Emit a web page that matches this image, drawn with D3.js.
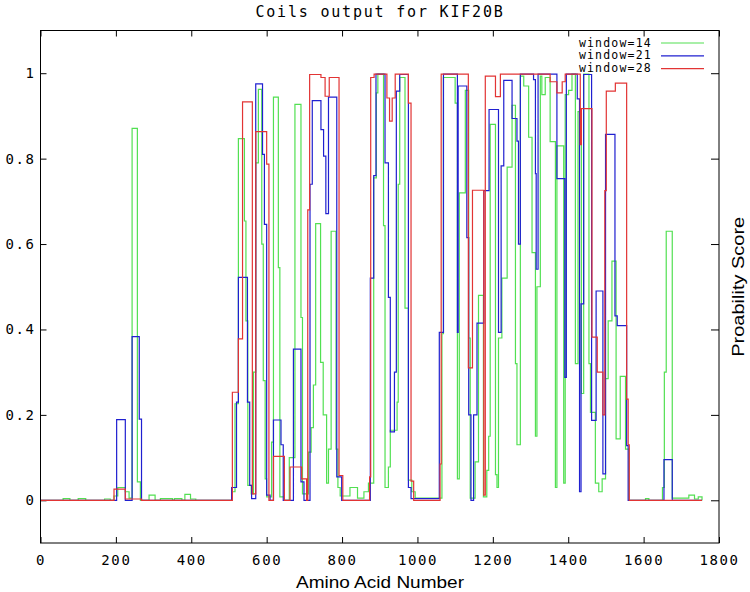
<!DOCTYPE html>
<html>
<head>
<meta charset="utf-8">
<title>Coils output for KIF20B</title>
<script src="https://d3js.org/d3.v7.min.js"></script>
<style>
  body { margin: 0; background: #fff; }
  .mono { font-family: "DejaVu Sans Mono", monospace; }
</style>
</head>
<body>
<script>

    const width = 750;
    const height = 592;

    // [first residue, score] steps
    const win14 = [
        [0, 0], [60, 0.004], [78, 0], [100, 0.004], [120, 0], [170, 0.003], [185, 0],
        [195, 0.01], [205, 0.03], [225, 0.02], [235, 0.005], [243, 0.871], [257, 0.043], [265, 0],
        [288, 0.012], [304, 0], [318, 0.004], [350, 0], [355, 0.004], [375, 0], [383, 0.014],
        [398, 0.003], [412, 0],
        [507, 0.02], [516, 0.226], [525, 0.847], [541, 0.654], [545, 0.42], [550, 0.035],
        [559, 0.015], [565, 0.3], [571, 0.79], [578, 0.962], [587, 0.6], [591, 0.28], [596, 0.05],
        [600, 0.008], [613, 0.136], [618, 0.944], [631, 0.545], [635, 0.008], [647, 0],
        [660, 0.1], [675, 0.927], [691, 0.428], [695, 0.015], [711, 0.113], [718, 0.17],
        [724, 0.27], [730, 0.648], [743, 0.323], [750, 0.2], [759, 0.04], [764, 0.12],
        [771, 0.63], [784, 0.12], [789, 0.03], [795, 0.01],
        [821, 0.03], [841, 0.005], [858, 0.02], [870, 0.04], [884, 0.755], [891, 0.954],
        [895, 0.998], [910, 0.643], [914, 0.03], [923, 0.078], [928, 0.164], [946, 0.23],
        [949, 0.74], [953, 0.99], [967, 0.45], [976, 0.047], [985, 0.02], [994, 0.005],
        [1065, 0.39], [1069, 0.99], [1100, 0.93], [1106, 0.05],
        [1111, 0.72], [1127, 0.96], [1136, 0.38], [1140, 0.005], [1153, 0.09], [1162, 0.48],
        [1175, 0.008], [1184, 0.07], [1189, 0.15], [1193, 0.88], [1207, 0.06], [1211, 0.03],
        [1215, 0.38], [1224, 0.52], [1238, 0.78], [1251, 0.925], [1260, 0.32], [1264, 0.13],
        [1273, 0.993], [1282, 0.97], [1295, 0.85], [1304, 0.58], [1313, 0.15], [1317, 0.5],
        [1326, 0.993], [1330, 0.95], [1339, 0.99], [1352, 0.84], [1366, 0.03], [1370, 0.83],
        [1388, 0.04], [1392, 0.95], [1401, 0.96], [1410, 0.998], [1419, 0.32], [1426, 0.91],
        [1435, 0.25], [1441, 0.998], [1455, 0.32], [1459, 0.206], [1472, 0.04], [1481, 0.02],
        [1490, 0.05], [1499, 0.285], [1506, 0.42], [1516, 0.56], [1527, 0.144], [1538, 0.29],
        [1552, 0.12], [1561, 0], [1605, 0.004], [1614, 0], [1650, 0.03], [1655, 0.3],
        [1660, 0.63], [1676, 0.005], [1720, 0.012], [1735, 0.003], [1745, 0.008], [1755, 0]
    ];

    const win21 = [
        [0, 0], [202, 0.189], [225, 0], [243, 0.383], [262, 0.19], [268, 0],
        [507, 0.03], [520, 0.23], [525, 0.522], [549, 0.23], [555, 0.035], [560, 0.004],
        [571, 0.975], [589, 0.81], [594, 0.646], [600, 0.012], [609, 0], [618, 0.188],
        [638, 0.13], [644, 0], [671, 0.354], [691, 0.043], [699, 0], [715, 0.74],
        [721, 0.936], [744, 0.868], [751, 0.806], [757, 0.671], [764, 0.944], [786, 0.055],
        [799, 0], [875, 0.52], [884, 0.76], [890, 0.998], [914, 0.79], [923, 0.475],
        [928, 0.16], [939, 0.3], [944, 0.958], [953, 0.997], [976, 0.03], [983, 0.004],
        [1058, 0.393], [1069, 0.998], [1106, 0.393], [1108, 0.97], [1131, 0.615],
        [1136, 0.2], [1142, 0], [1149, 0.2], [1158, 0.415], [1176, 0.725], [1190, 0.915],
        [1215, 0.393], [1222, 0.783], [1229, 0.983], [1251, 0.894], [1264, 0.841],
        [1268, 0.6], [1273, 0.998], [1308, 0.985], [1313, 0.765], [1315, 0.541],
        [1320, 0.998], [1370, 0.753], [1391, 0.288], [1395, 0.998], [1424, 0.94],
        [1430, 0.02], [1434, 0.46], [1441, 0.997], [1462, 0.187], [1474, 0.49],
        [1492, 0.062], [1499, 0.857], [1524, 0.432], [1530, 0.409], [1555, 0.128],
        [1559, 0], [1654, 0.095], [1676, 0], [1755, 0]
    ];

    const win28 = [
        [0, 0], [195, 0.026], [225, 0.003], [268, 0],
        [509, 0.253], [525, 0.378], [536, 0.933], [562, 0.015], [571, 0.863], [600, 0.787],
        [606, 0], [618, 0.103], [647, 0], [662, 0.078], [693, 0.05], [706, 0], [709, 0.68],
        [714, 0.997], [744, 0.99], [755, 0.946], [766, 0.99], [792, 0.058], [802, 0],
        [873, 0.055], [876, 0.99], [885, 0.998], [919, 0.942], [926, 0.888], [933, 0.942],
        [941, 0.998], [976, 0.93], [983, 0.045], [990, 0], [1060, 0.085], [1063, 0.998],
        [1135, 0.31], [1146, 0.726], [1176, 0.012], [1180, 0.993], [1207, 0.945],
        [1220, 0.998], [1352, 0.98], [1370, 0.954], [1384, 0.98], [1392, 0.998],
        [1432, 0.833], [1435, 0.917], [1463, 0.382], [1477, 0.3], [1492, 0.2],
        [1497, 0.725], [1501, 0.958], [1525, 0.977], [1555, 0.237], [1559, 0.13],
        [1562, 0], [1755, 0]
    ];

    const seriesNames = ["window=14", "window=21", "window=28"];
    const seriesColors = ["#52e052", "#2020d0", "#e23434"];
    const xTicks = d3.range(0, 1801, 200);
    const yTicks = [0, 0.2, 0.4, 0.6, 0.8, 1];

    const margin = {left: 40.5, right: 31, top: 30.5, bottom: 49};

    const x = d3.scaleLinear()
        .domain([0, 1800])
        .range([margin.left, width - margin.right]);

    const y = d3.scaleLinear()
        .domain([-0.1, 1.1])
        .range([height - margin.bottom, margin.top]);

    const svg = d3.select("body").append("svg")
        .attr("width", width)
        .attr("height", height);

    // title
    svg.append("text")
        .attr("class", "mono")
        .attr("x", 380)
        .attr("y", 17)
        .attr("text-anchor", "middle")
        .attr("font-size", "15px")
        .attr("letter-spacing", "1.8px")
        .text("Coils output for KIF20B");

    const tickStyle = g => {
        g.select(".domain").remove();
        g.selectAll("line").attr("stroke", "#000");
        g.selectAll("text")
            .attr("class", "mono")
            .attr("font-size", "14px")
            .attr("letter-spacing", "1.6px")
            .attr("fill", "#000");
    };

    // bottom axis, ticks drawn inward
    svg.append("g")
        .attr("transform", `translate(0,${y(-0.1)})`)
        .call(d3.axisBottom(x).tickValues(xTicks).tickFormat(d3.format("d"))
            .tickSizeInner(-6).tickSizeOuter(0).tickPadding(12))
        .call(tickStyle);

    // top mirror ticks
    svg.append("g")
        .attr("transform", `translate(0,${y(1.1)})`)
        .call(d3.axisTop(x).tickValues(xTicks).tickFormat("")
            .tickSizeInner(-6).tickSizeOuter(0))
        .call(tickStyle);

    // left axis
    svg.append("g")
        .attr("transform", `translate(${x(0)},0)`)
        .call(d3.axisLeft(y).tickValues(yTicks).tickFormat(d3.format("~g"))
            .tickSizeInner(-6).tickSizeOuter(0).tickPadding(5))
        .call(tickStyle);

    // right mirror ticks
    svg.append("g")
        .attr("transform", `translate(${x(1800)},0)`)
        .call(d3.axisRight(y).tickValues(yTicks).tickFormat("")
            .tickSizeInner(-8).tickSizeOuter(0))
        .call(tickStyle);

    const line = d3.line()
        .x(d => x(d[0]))
        .y(d => y(d[1]))
        .curve(d3.curveStepAfter);

    const plot = svg.append("g");
    [win14, win21, win28].forEach((data, i) => {
        plot.append("path")
            .datum(data)
            .attr("fill", "none")
            .attr("stroke", seriesColors[i])
            .attr("stroke-width", 1.2)
            .attr("d", line);
    });

    // frame
    svg.append("rect")
        .attr("x", x(0))
        .attr("y", y(1.1))
        .attr("width", x(1800) - x(0))
        .attr("height", y(-0.1) - y(1.1))
        .attr("fill", "none")
        .attr("stroke", "#000")
        .attr("stroke-width", 1);

    // legend
    const legend = svg.append("g");
    seriesNames.forEach((name, i) => {
        const ly = 43 + i * 12.8;
        legend.append("text")
            .attr("class", "mono")
            .attr("x", 652)
            .attr("y", ly + 3.5)
            .attr("text-anchor", "end")
            .attr("font-size", "11.5px")
            .attr("letter-spacing", "1.2px")
            .text(name);
        legend.append("line")
            .attr("x1", 661).attr("x2", 704)
            .attr("y1", ly).attr("y2", ly)
            .attr("stroke", seriesColors[i])
            .attr("stroke-width", 1.2);
    });

    // axis titles
    svg.append("text")
        .attr("x", 380)
        .attr("y", 588)
        .attr("text-anchor", "middle")
        .attr("font-family", "Liberation Sans, Arial, sans-serif")
        .attr("font-size", "17px")
        .attr("textLength", 168)
        .attr("lengthAdjust", "spacingAndGlyphs")
        .text("Amino Acid Number");

    svg.append("text")
        .attr("transform", `translate(744,${y(0.5)}) rotate(-90)`)
        .attr("text-anchor", "middle")
        .attr("font-family", "Liberation Sans, Arial, sans-serif")
        .attr("font-size", "17px")
        .attr("textLength", 140)
        .attr("lengthAdjust", "spacingAndGlyphs")
        .text("Proability Score");

</script>
</body>
</html>
